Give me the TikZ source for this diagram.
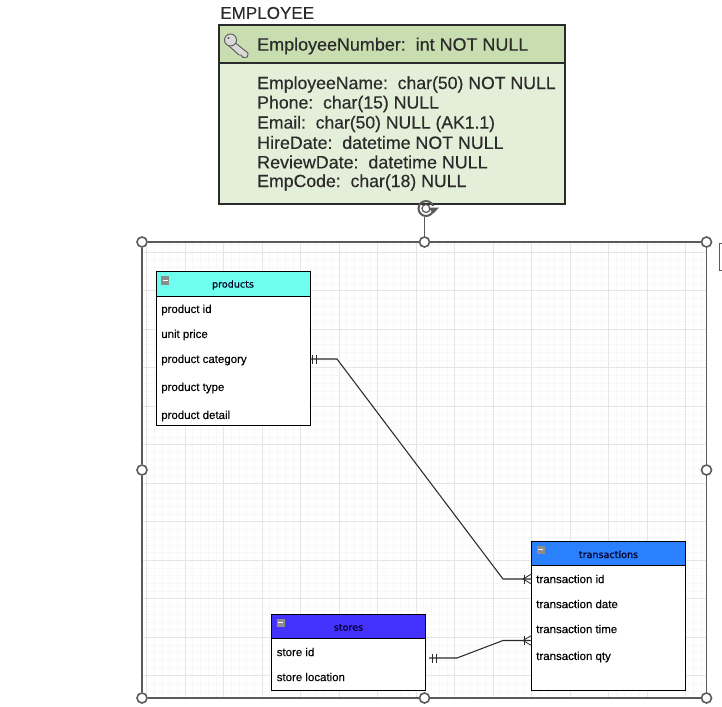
\documentclass[tikz,border=0pt]{standalone}
\usepackage{fontspec}
\setmainfont{Liberation Sans}
\newfontfamily\headfont[RawFeature={embolden=0.4}]{DejaVu Sans}
\newfontfamily\empfont[RawFeature={embolden=0.35}]{Liberation Sans}
\newfontfamily\rowfont[RawFeature={embolden=0.2}]{Liberation Sans}
\definecolor{inkdark}{HTML}{2B2B2B}
\definecolor{framegrey}{HTML}{5A5A5A}
\definecolor{gridminor}{HTML}{F8F8F8}
\definecolor{gridmajor}{HTML}{E6E6E6}
\definecolor{emphead}{HTML}{C8DEB0}
\definecolor{empbody}{HTML}{E4EFD9}
\definecolor{prodhead}{HTML}{6FFFEF}
\definecolor{tranhead}{HTML}{2A80FF}
\definecolor{storehead}{HTML}{4433FF}
\newcommand{\empsize}[1]{\empfont\fontsize{#1}{16}\selectfont}
\tikzset{
  x=0.75pt, y=-0.75pt,
  emptext/.style={anchor=west, inner sep=0pt, text=inkdark, font=\empsize{13.25}},
  rowtext/.style={anchor=west, inner sep=0pt, text=black, font=\rowfont\fontsize{8.6}{11}\selectfont},
  headtext/.style={anchor=center, inner sep=0pt, text=black!85!blue, font=\headfont\fontsize{7.2}{9}\selectfont},
  tablebox/.style={draw=black, line width=0.65pt},
  handle/.style={circle, draw=framegrey, fill=white, line width=1.2pt, minimum size=7.5pt, inner sep=0pt},
  conn/.style={draw=inkdark, line width=0.8pt},
}
% Table with coloured title bar and collapse toggle
\newcommand{\tablehead}[7]{% name, x1, y1, x2, y2, header bottom, colour
  \fill[white] (#2,#3) rectangle (#4,#5);
  \fill[#7] (#2,#3) rectangle (#4,#6);
  \draw[tablebox] (#2,#3) rectangle (#4,#5);
  \draw[tablebox] (#2,#6) -- (#4,#6);
  \node[headtext] (#1title) at ({(#2+#4)/2},{#3+13.4}) {#1};
  \fill[black!45] ({#2+5},{#3+4.5}) rectangle ({#2+13},{#3+13});
  \draw[white, line width=0.8pt] ({#2+6.5},{#3+8.8}) -- ({#2+11.5},{#3+8.8});
}
\begin{document}
\begin{tikzpicture}
\useasboundingbox (0,0) rectangle (722,707);
\fill[white] (0,0) rectangle (722,707);

% canvas grid
\begin{scope}
  \clip (142,242) rectangle (706,698);
  \foreach \i in {0,...,80} {
    \draw[gridminor, line width=0.4pt] ({146.5+7.7*\i},242) -- ({146.5+7.7*\i},698);
    \draw[gridminor, line width=0.4pt] (142,{244.5+7.7*\i}) -- (706,{244.5+7.7*\i});
  }
  \foreach \i in {0,...,15} {
    \draw[gridmajor, line width=0.5pt] ({146.5+38.5*\i},242) -- ({146.5+38.5*\i},698);
    \draw[gridmajor, line width=0.5pt] (142,{252+38.5*\i}) -- (706,{252+38.5*\i});
  }
\end{scope}

% selection frame and handles
\node[handle] (htl) at (142,242) {};
\node[handle] (htm) at (424.5,242) {};
\node[handle] (htr) at (706.5,242) {};
\node[handle] (hml) at (142,470) {};
\node[handle] (hmr) at (706.5,470) {};
\node[handle] (hbl) at (142,698) {};
\node[handle] (hbm) at (424.5,698) {};
\node[handle] (hbr) at (706.5,698) {};
\draw[framegrey, line width=0.8pt] (htl) -- (htm) -- (htr) -- (hmr) -- (hbr) -- (hbm) -- (hbl) -- (hml) -- (htl);
\draw[framegrey, line width=0.7pt] (722,243) -- (719.5,243) -- (719.5,270) -- (722,270);

% EMPLOYEE entity
\node[emptext, font=\empsize{12.8}] (emptitle) at (220,13) {EMPLOYEE};
\fill[empbody] (219,25) rectangle (565,204);
\fill[emphead] (219,25) rectangle (565,63);
\draw[inkdark, line width=0.9pt] (219,25) rectangle (565,204);
\draw[inkdark, line width=0.9pt] (219,63) -- (565,63);
\node[emptext, font=\empsize{13.45}] (empkey) at (257,46) {EmployeeNumber:\ \ int NOT NULL};
\node[emptext] (e1) at (257,84.5) {EmployeeName:\ \ char(50) NOT NULL};
\node[emptext] (e2) at (257,104) {Phone:\ \ char(15) NULL};
\node[emptext, font=\empsize{13.15}] (e3) at (257,124) {Email:\ \ char(50) NULL (AK1.1)};
\node[emptext, font=\empsize{13.35}] (e4) at (257,142.5) {HireDate:\ \ datetime NOT NULL};
\node[emptext, font=\empsize{13.4}] (e5) at (257,162) {ReviewDate:\ \ datetime NULL};
\node[emptext] (e6) at (257,182.5) {EmpCode:\ \ char(18) NULL};

% key icon
\draw[framegrey, fill=white!85!black, line width=0.7pt, line join=round]
  (233,41) -- (248,53) -- (247.5,57) -- (243,57.5) -- (241,55) -- (239,55) -- (229,46) -- cycle;
\draw[framegrey, fill=white!85!black, line width=0.7pt] (230.5,40) circle (6);
\fill[framegrey] (228.5,38) circle (1.2);

% rotation handle
\draw[framegrey, line width=1.5pt] (426,208.5) circle (7.5);
\draw[framegrey, line width=0.9pt] (426,208.5) circle (4);
\fill[white] (430,206) rectangle (436,211);
\fill[framegrey] (428,207.5) -- (439,207.5) -- (433.5,213.5) -- cycle;
\coordinate (rothandle) at (424.5,217);
\draw[framegrey, line width=0.9pt] (rothandle) -- (htm);

% products table
\tablehead{products}{156}{271.5}{310}{425}{296}{prodhead}
\node[rowtext] (p1) at (161,310) {product id};
\node[rowtext] (p2) at (161,335) {unit price};
\node[rowtext] (p3) at (161,360) {product category};
\node[rowtext] (p4) at (161,388) {product type};
\node[rowtext] (p5) at (161,416) {product detail};

% transactions table
\tablehead{transactions}{531.5}{541}{685.5}{690.5}{565.5}{tranhead}
\node[rowtext] (t1) at (536,579) {transaction id};
\node[rowtext] (t2) at (536,604) {transaction date};
\node[rowtext] (t3) at (536,629) {transaction time};
\node[rowtext] (t4) at (536,657) {transaction qty};

% stores table
\tablehead{stores}{271.5}{614}{425.5}{690.5}{638.5}{storehead}
\node[rowtext] (s1) at (276.5,652) {store id};
\node[rowtext] (s2) at (276.5,677) {store location};

% connectors
\coordinate (prodport) at (310,359);
\coordinate (prodelbow) at (337,359);
\coordinate (tranelbowa) at (503,579);
\coordinate (tranporta) at (531.5,579);
\coordinate (storeport) at (429,658);
\coordinate (storeelbow) at (457,658);
\coordinate (tranelbowb) at (503,640.5);
\coordinate (tranportb) at (531.5,640.5);
\draw[conn] (prodport) -- (prodelbow) -- (tranelbowa) -- (tranporta);
\draw[conn] (storeport) -- (storeelbow) -- (tranelbowb) -- (tranportb);

% one-side bars
\foreach \px in {312,316} \draw[conn, line width=0.6pt] (\px,354.5) -- (\px,363.5);
\foreach \px in {432,436} \draw[conn, line width=0.6pt] (\px,653.5) -- (\px,662.5);

% many-side crow's feet
\foreach \py in {579,640.5} {
  \draw[conn, line width=0.6pt] (531.5,{\py-5}) -- (523,\py) -- (531.5,{\py+5});
  \draw[conn, line width=0.6pt] (524,{\py-4.5}) -- (524,{\py+4.5});
}
\end{tikzpicture}
\end{document}
